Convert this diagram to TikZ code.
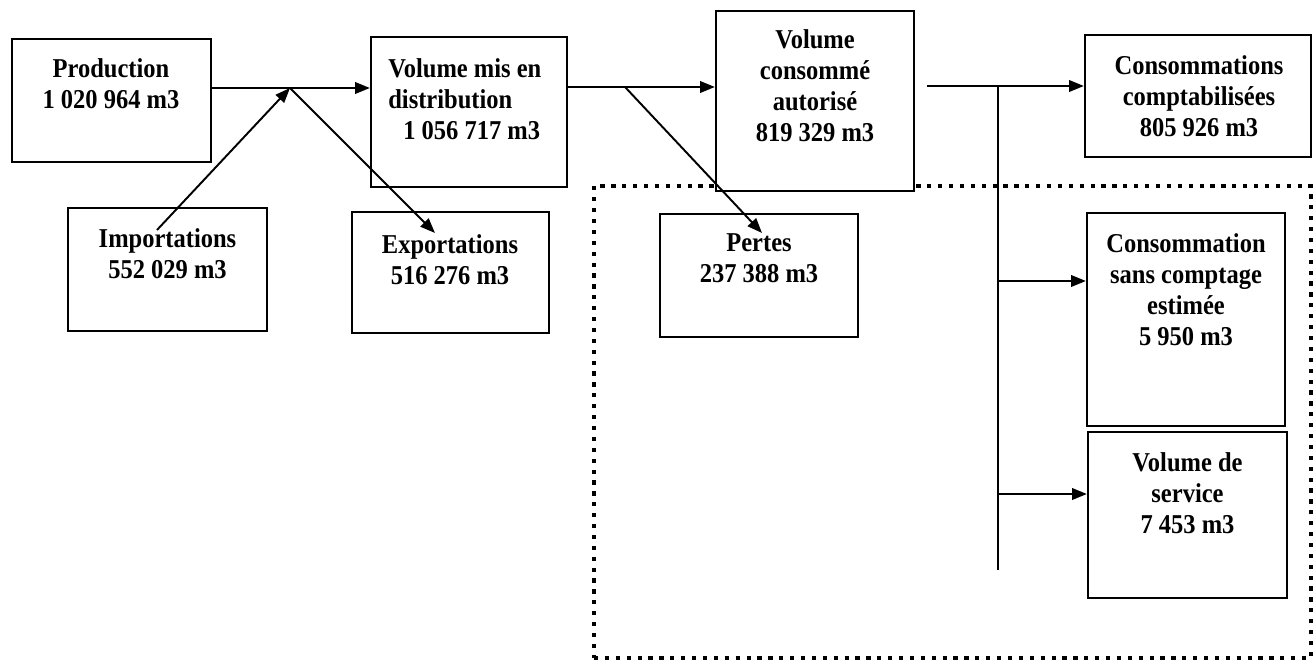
\documentclass[tikz,border=0pt]{standalone}
\usepackage{fontspec}
\setmainfont{Liberation Serif}[FakeStretch=0.9]
\usetikzlibrary{arrows.meta,fit}
\begin{document}
\begin{tikzpicture}[x=0.02cm,y=-0.02cm,
  box/.style={draw, line width=1.2pt, fill=white, inner sep=0pt},
  txt/.style={inner sep=0pt, anchor=north, align=center, font=\fontsize{15.5}{17.6}\selectfont\bfseries},
  arr/.style={line width=1.4pt, -{Triangle[length=8.5pt,width=6.5pt]}},
  conn/.style={line width=1.2pt},
  zone/.style={draw, line width=2.6pt, dash pattern=on 2.4pt off 3.8pt, inner sep=0pt}]
\useasboundingbox (0,0) rectangle (1314,662);
% dotted zone
\node[zone, fit={(594,186) (1311,658)}] (zonebox) {};
% boxes
\node[box, fit={(12,39) (211,162)}] (prod) {};
\node[box, fit={(371,37) (567,187)}] (vmd) {};
\node[box, fit={(68,208) (267,331)}] (imp) {};
\node[box, fit={(352,212) (549,333)}] (exp) {};
\node[box, fit={(716,11) (914,191)}] (vca) {};
\node[box, fit={(1085,35) (1311,157)}] (cc) {};
\node[box, fit={(660,214) (858,337)}] (pertes) {};
\node[box, fit={(1087,213) (1285,426)}] (csce) {};
\node[box, fit={(1088,432) (1287,598)}] (vds) {};
% texts
\node[txt] (tprod) at (111,58) {Production\\1 020 964 m3};
\node[txt, anchor=north west, align=left] (tvmd) at (388,58) {Volume mis en\\distribution\\\hspace*{8.5pt}1 056 717 m3};
\node[txt] (timp) at (167.5,228) {Importations\\552 029 m3};
\node[txt] (texp) at (450,234) {Exportations\\516 276 m3};
\node[txt] (tvca) at (815,29) {Volume\\consommé\\autorisé\\819 329 m3};
\node[txt] (tcc) at (1199,55) {Consommations\\comptabilisées\\805 926 m3};
\node[txt] (tpertes) at (759,233) {Pertes\\237 388 m3};
\node[txt] (tcsce) at (1186,233) {Consommation\\sans comptage\\estimée\\5 950 m3};
\node[txt] (tvds) at (1187.5,452) {Volume de\\service\\7 453 m3};
% connectors
\coordinate (j1) at (290,88);
\coordinate (impstart) at (157,230);
\coordinate (expend) at (435,233);
\coordinate (j2) at (625,87);
\coordinate (pend) at (762,233);
\coordinate (s3) at (927,86);
\coordinate (j3) at (998,86);
\coordinate (vend) at (998,570);
\coordinate (b1) at (998,281);
\coordinate (b2) at (998,494);
\draw[arr] (prod.east |- j1) -- (vmd.west |- j1);
\draw[arr, line width=1.1pt] (impstart) -- (j1);
\draw[arr, line width=1.1pt] (j1) -- (expend);
\draw[arr] (vmd.east |- j2) -- (vca.west |- j2);
\draw[arr, line width=1.1pt] (j2) -- (pend);
\draw[arr] (s3) -- (cc.west |- s3);
\draw[conn, line width=1.1pt] (j3) -- (vend);
\draw[arr] (b1) -- (csce.west |- b1);
\draw[arr] (b2) -- (vds.west |- b2);
\end{tikzpicture}
\end{document}
